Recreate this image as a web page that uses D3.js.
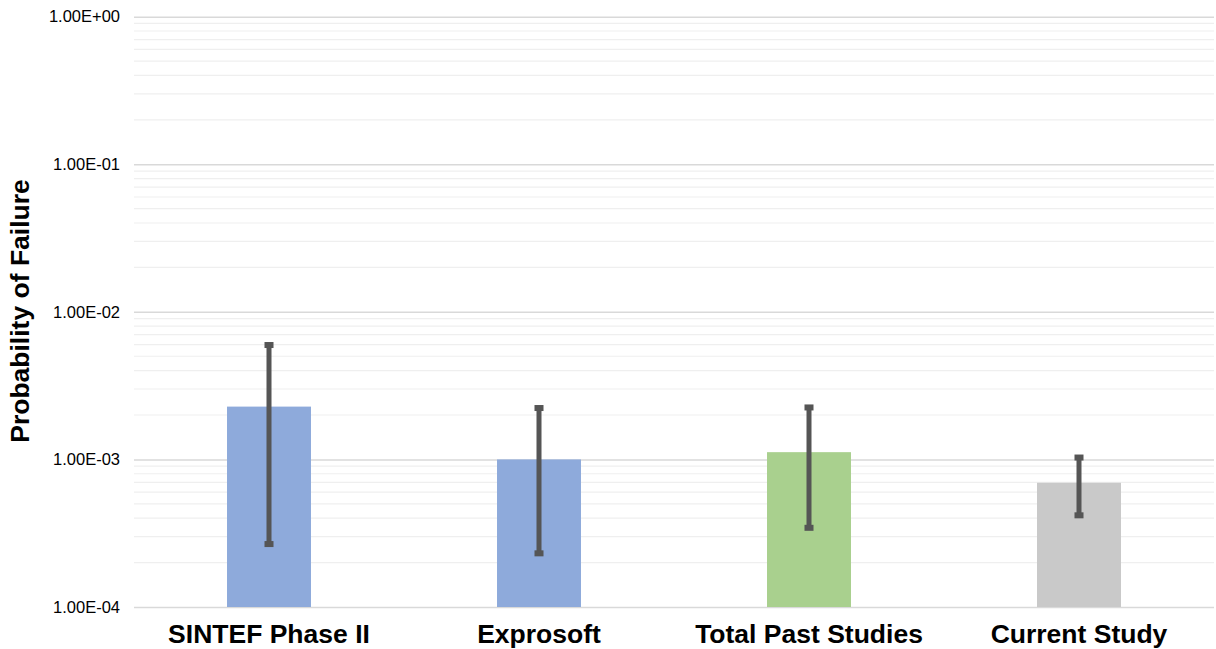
<!DOCTYPE html>
<html><head><meta charset="utf-8">
<script src="https://cdn.jsdelivr.net/npm/d3@7"></script>
<style>body{margin:0;background:#fff;} text{font-family:"Liberation Sans",Arial,sans-serif;}</style>
</head><body>
<svg id="chart" width="1216" height="649"></svg>
<script>
const categories = ["SINTEF Phase II", "Exprosoft", "Total Past Studies", "Current Study"];
const values = [2.28e-3, 1.00e-3, 1.12e-3, 6.95e-4];
const errLow = [2.67e-4, 2.31e-4, 3.44e-4, 4.18e-4];
const errHigh = [5.96e-3, 2.23e-3, 2.25e-3, 1.03e-3];
const colors = ["#8eaadb", "#8eaadb", "#a9d08e", "#c9c9c9"];
const yTicks = [1e-4, 1e-3, 1e-2, 1e-1, 1e0];
const yTickLabels = ["1.00E-04", "1.00E-03", "1.00E-02", "1.00E-01", "1.00E+00"];

const svg = d3.select("#chart");
const m = {left: 134, right: 2, top: 16.7, bottom: 42};
const W = 1216, H = 649;
const x = d3.scaleBand().domain(categories).range([m.left, W - m.right]).paddingInner(0.689).paddingOuter(0.3445);
const y = d3.scaleLog().domain([1e-4, 1]).range([607, 16.7]);

// minor gridlines
const minor = [];
for (let e = -4; e < 0; e++) for (let k = 2; k <= 9; k++) minor.push(k * Math.pow(10, e));
svg.append("g").selectAll("line").data(minor).join("line")
  .attr("x1", m.left).attr("x2", W - m.right)
  .attr("y1", d => y(d)).attr("y2", d => y(d))
  .attr("stroke", "#efefef").attr("stroke-width", 1.2);

// major gridlines via axis
const axis = d3.axisLeft(y).tickValues(yTicks).tickFormat((d, i) => yTickLabels[i]).tickSize(-(W - m.right - m.left)).tickPadding(14);
const g = svg.append("g").attr("transform", `translate(${m.left},0)`).call(axis);
g.select(".domain").remove();
g.selectAll(".tick line").attr("stroke", "#d9d9d9").attr("stroke-width", 1.5);
g.selectAll(".tick text").attr("font-size", 16.5).attr("fill", "#000").style("font-family", "'Liberation Sans',Arial,sans-serif");

// bars
svg.append("g").selectAll("rect").data(categories).join("rect")
  .attr("x", d => x(d)).attr("width", x.bandwidth())
  .attr("y", (d, i) => y(values[i])).attr("height", (d, i) => y(1e-4) - y(values[i]))
  .attr("fill", (d, i) => colors[i]);

// error bars
const eb = svg.append("g");
categories.forEach((c, i) => {
  const cx = x(c) + x.bandwidth() / 2;
  eb.append("line").attr("x1", cx).attr("x2", cx).attr("y1", y(errLow[i])).attr("y2", y(errHigh[i]))
    .attr("stroke", "#555").attr("stroke-width", 5);
  [errLow[i], errHigh[i]].forEach(v => {
    eb.append("rect").attr("x", cx - 4.5).attr("y", y(v) - 3).attr("width", 9).attr("height", 6).attr("fill", "#555");
  });
});

// x labels
svg.append("g").selectAll("text").data(categories).join("text")
  .attr("x", d => x(d) + x.bandwidth() / 2).attr("y", 643)
  .attr("text-anchor", "middle").attr("font-size", 26.5).attr("font-weight", "bold").attr("fill", "#000")
  .text(d => d);

// y title
svg.append("text").attr("transform", "translate(29,311) rotate(-90)")
  .attr("text-anchor", "middle").attr("font-size", 26.5).attr("font-weight", "bold").attr("fill", "#000")
  .text("Probability of Failure");
</script>
</body></html>
